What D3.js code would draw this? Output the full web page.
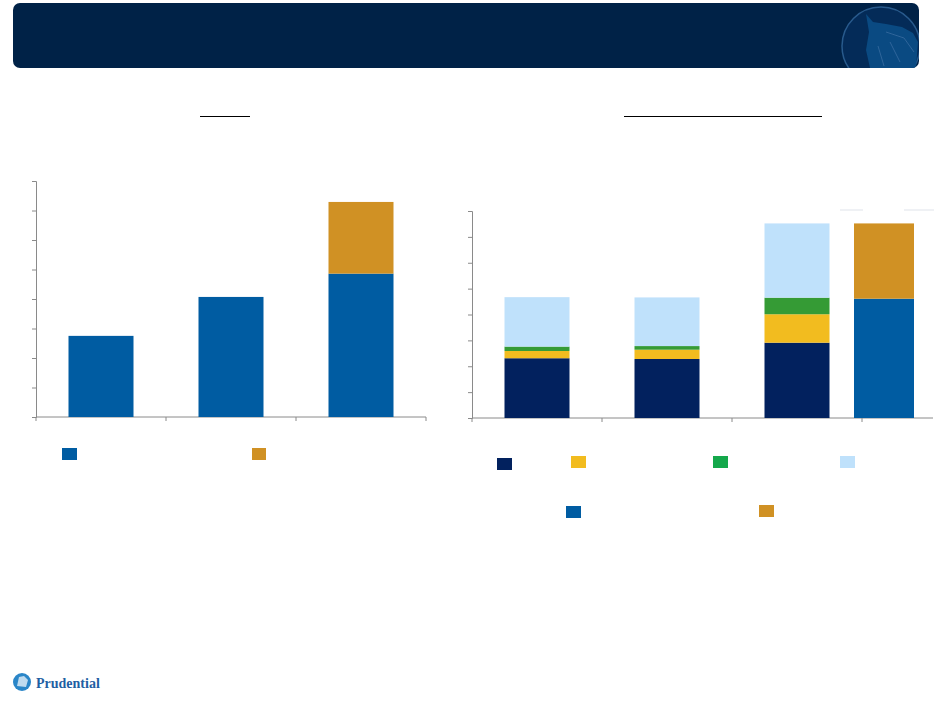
<!DOCTYPE html>
<meta charset="utf-8" />
<script src="https://d3js.org/d3.v7.js"></script>
<style>
  body { margin: 0; background: #fff; }
  svg { display: block; font-family: "Liberation Serif", serif; }
</style>
<div id="chart"></div>
<script>
  // ---- data (axis units) ----
  // left chart: three stacked bars, two series
  const leftCats = ["A", "B", "C"];
  const leftBase = [2.75, 4.07, 4.86];
  const leftExtra = [0, 0, 2.43];
  const leftTicks = [0, 1, 2, 3, 4, 5, 6, 7, 8];

  // right chart: three stacked bars of four series, plus one bar of two series
  const rightCats = ["A", "B", "C"];
  const rightNavy = [2.31, 2.28, 2.91];
  const rightYellow = [0.28, 0.36, 1.1];
  const rightGreen = [0.17, 0.14, 0.64];
  const rightLight = [1.91, 1.88, 2.87];
  const combBase = [4.61];
  const combExtra = [2.91];
  const rightTicks = [0, 1, 2, 3, 4, 5, 6, 7, 8];

  const C = {
    navy: "#02215e",
    yellow: "#f2bc1f",
    green: "#359b35",
    greenKey: "#14a84b",
    light: "#bfe1fb",
    blue: "#005ca2",
    gold: "#d09124",
    axis: "#8a8a8a"
  };

  const width = 938, height = 707;
  const svg = d3.select("#chart").append("svg")
    .attr("width", width).attr("height", height);

  // ---- header band ----
  const defs = svg.append("defs");
  defs.append("clipPath").attr("id", "hdrClip")
    .append("rect").attr("x", 13).attr("y", 3).attr("width", 906).attr("height", 65).attr("rx", 7);
  svg.append("rect")
    .attr("x", 13).attr("y", 3).attr("width", 906).attr("height", 65).attr("rx", 7)
    .attr("fill", "#002247");
  const logo = svg.append("g").attr("clip-path", "url(#hdrClip)");
  logo.append("circle").attr("cx", 881).attr("cy", 46).attr("r", 39)
    .attr("fill", "#042b58").attr("stroke", "#285a8c").attr("stroke-width", 1.5);
  logo.append("path")
    .attr("d", "M866,14 L873,22 L886,24 L902,27 L913,33 L918,42 L916,68 L870,68 L866,50 L869,32 Z")
    .attr("fill", "#0a4a82");
  logo.append("path")
    .attr("d", "M886,32 L904,38 L914,52 M890,42 L900,62 M878,46 L884,66")
    .attr("fill", "none").attr("stroke", "#2f659a").attr("stroke-width", 1);

  // ---- title underlines ----
  svg.append("line").attr("x1", 200).attr("x2", 250).attr("y1", 116.5).attr("y2", 116.5)
    .attr("stroke", "#000").attr("stroke-width", 1);
  svg.append("line").attr("x1", 624).attr("x2", 822).attr("y1", 116.5).attr("y2", 116.5)
    .attr("stroke", "#000").attr("stroke-width", 1);

  function drawAxes(g, x0, x1, y, xTickPos, yTicks) {
    g.append("g").attr("transform", `translate(${x0},0)`)
      .call(d3.axisLeft(y).tickValues(yTicks).tickSize(4).tickFormat(""))
      .call(s => s.selectAll("line,path").attr("stroke", C.axis));
    g.append("line").attr("x1", x0).attr("x2", x1).attr("y1", y(0)).attr("y2", y(0))
      .attr("stroke", C.axis);
    g.selectAll(".xt").data(xTickPos).enter().append("line")
      .attr("x1", d => d).attr("x2", d => d).attr("y1", y(0)).attr("y2", y(0) + 4)
      .attr("stroke", C.axis);
  }

  function drawStack(g, x, bw, y, cats, series, colors) {
    const rows = cats.map((c, i) => {
      const r = { cat: c };
      series.forEach((s, k) => (r["s" + k] = s[i]));
      return r;
    });
    const stack = d3.stack().keys(series.map((s, k) => "s" + k))(rows);
    g.selectAll(null).data(stack).enter().append("g")
      .attr("fill", (d, k) => colors[k])
      .selectAll("rect").data(d => d).enter().append("rect")
      .attr("x", d => x(d.data.cat))
      .attr("width", bw)
      .attr("y", d => y(d[1]))
      .attr("height", d => y(d[0]) - y(d[1]));
  }

  // ---- left chart ----
  const gl = svg.append("g");
  const yL = d3.scaleLinear().domain([0, 8]).range([417, 181]);
  const xL = d3.scaleBand().domain(leftCats).range([36, 426]).paddingInner(0.5).paddingOuter(0.25);
  drawAxes(gl, 36, 426, yL, [36, 166, 296, 426], leftTicks);
  drawStack(gl, xL, xL.bandwidth(), yL, leftCats, [leftBase, leftExtra], [C.blue, C.gold]);

  gl.append("rect").attr("x", 62).attr("y", 448).attr("width", 15).attr("height", 12).attr("fill", C.blue);
  gl.append("rect").attr("x", 252).attr("y", 448).attr("width", 14).attr("height", 12).attr("fill", C.gold);

  // ---- right chart ----
  const gr = svg.append("g");
  const yR = d3.scaleLinear().domain([0, 8]).range([418, 211]);
  const xR = d3.scaleBand().domain(rightCats).range([472, 862]).paddingInner(0.5).paddingOuter(0.25);
  drawAxes(gr, 472, 933, yR, [472, 602, 732, 862], rightTicks);
  drawStack(gr, xR, xR.bandwidth(), yR, rightCats,
    [rightNavy, rightYellow, rightGreen, rightLight], [C.navy, C.yellow, C.green, C.light]);

  // combined bar beside the third category
  const xC = d3.scaleBand().domain(["D"]).range([854, 914]);
  drawStack(gr, xC, xC.bandwidth(), yR, ["D"], [combBase, combExtra], [C.blue, C.gold]);

  // faint gridline remnants at top right
  gr.append("line").attr("x1", 840).attr("x2", 863).attr("y1", 210).attr("y2", 210)
    .attr("stroke", "#dfe3ea");
  gr.append("line").attr("x1", 904).attr("x2", 934).attr("y1", 210).attr("y2", 210)
    .attr("stroke", "#dfe3ea");

  const keys = [
    [497, 458, C.navy], [571, 456, C.yellow], [713, 456, C.greenKey], [840, 456, C.light],
    [566, 506, C.blue], [759, 505, C.gold]
  ];
  gr.selectAll(".key").data(keys).enter().append("rect")
    .attr("x", d => d[0]).attr("y", d => d[1]).attr("width", 15).attr("height", 12)
    .attr("fill", d => d[2]);

  // ---- footer logo ----
  const fl = svg.append("g").attr("transform", "translate(22,682)");
  fl.append("circle").attr("r", 9).attr("fill", "#2a86c8");
  fl.append("path").attr("d", "M-5,4 L-3,-5 L2,-6 L6,-2 L4,5 Z").attr("fill", "#ffffff").attr("opacity", 0.7);
  svg.append("text").attr("x", 36).attr("y", 688)
    .attr("font-size", 14).attr("font-weight", "bold").attr("fill", "#1f5fa3")
    .text("Prudential");
</script>
